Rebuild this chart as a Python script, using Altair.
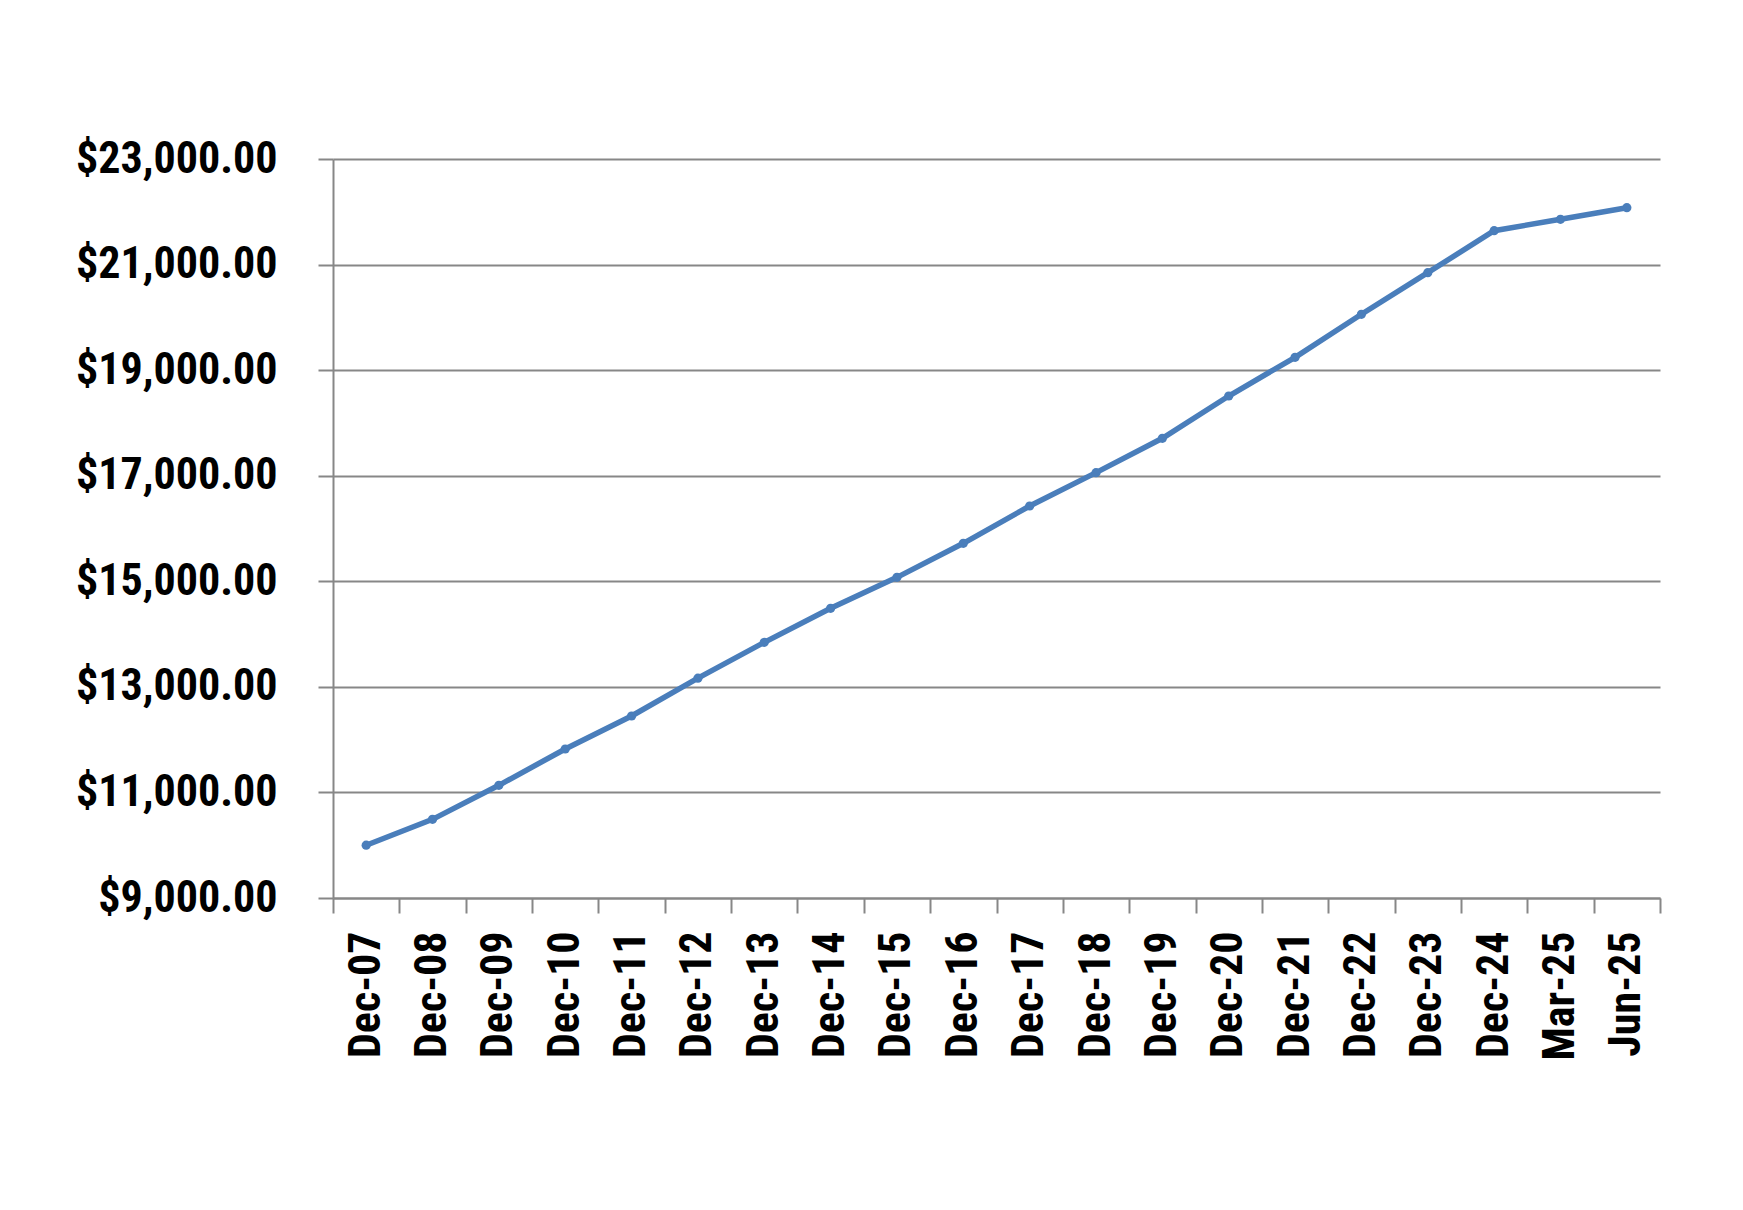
import altair as alt
import pandas as pd

periods = ["Dec-07", "Dec-08", "Dec-09", "Dec-10", "Dec-11", "Dec-12", "Dec-13",
           "Dec-14", "Dec-15", "Dec-16", "Dec-17", "Dec-18", "Dec-19", "Dec-20",
           "Dec-21", "Dec-22", "Dec-23", "Dec-24", "Mar-25", "Jun-25"]
values = [10000, 10490, 11135, 11823, 12448, 13165, 13844, 14488, 15075, 15720,
          16426, 17058, 17709, 18510, 19243, 20058, 20846, 21642, 21858, 22078]
y_ticks = [9000, 11000, 13000, 15000, 17000, 19000, 21000, 23000]

df = pd.DataFrame({"period": periods, "value": values})

FONT = "Roboto Condensed"
GRID = "#878787"
LINE = "#4a7ebb"

x = alt.X("period:N", sort=periods, title=None,
          scale=alt.Scale(paddingInner=0, paddingOuter=0),
          axis=alt.Axis(labelAngle=-90, labelAlign="right", labelBaseline="middle",
                        labelFont=FONT, labelFontSize=44, labelFontWeight="bold",
                        labelColor="black", labelPadding=18, labelLimit=400,
                        tickBand="extent", tickSize=15, tickWidth=2, tickColor=GRID,
                        domainColor=GRID, domainWidth=2, grid=False))
y = alt.Y("value:Q", title=None,
          scale=alt.Scale(domain=[9000, 23000], nice=False, zero=False),
          axis=alt.Axis(values=y_ticks, format="$,.2f",
                        labelFont=FONT, labelFontSize=44, labelFontWeight="bold",
                        labelColor="black", labelPadding=41, labelLimit=400,
                        tickSize=15, tickWidth=2, tickColor=GRID,
                        domainColor=GRID, domainWidth=2,
                        grid=True, gridColor=GRID, gridWidth=2))

line = alt.Chart(df).mark_line(color=LINE, strokeWidth=5.5).encode(x=x, y=y)
pts = alt.Chart(df).mark_point(color=LINE, filled=True, size=85, opacity=1).encode(x=x, y=y)

chart = (line + pts).properties(
    width=1327, height=739,
    autosize=alt.AutoSizeParams(type="none"),
    padding={"left": 325, "top": 151, "right": 60, "bottom": 250},
    background="white",
).configure_view(stroke=None)

chart.save("out.html", embed_options={"renderer": "svg", "actions": False})
